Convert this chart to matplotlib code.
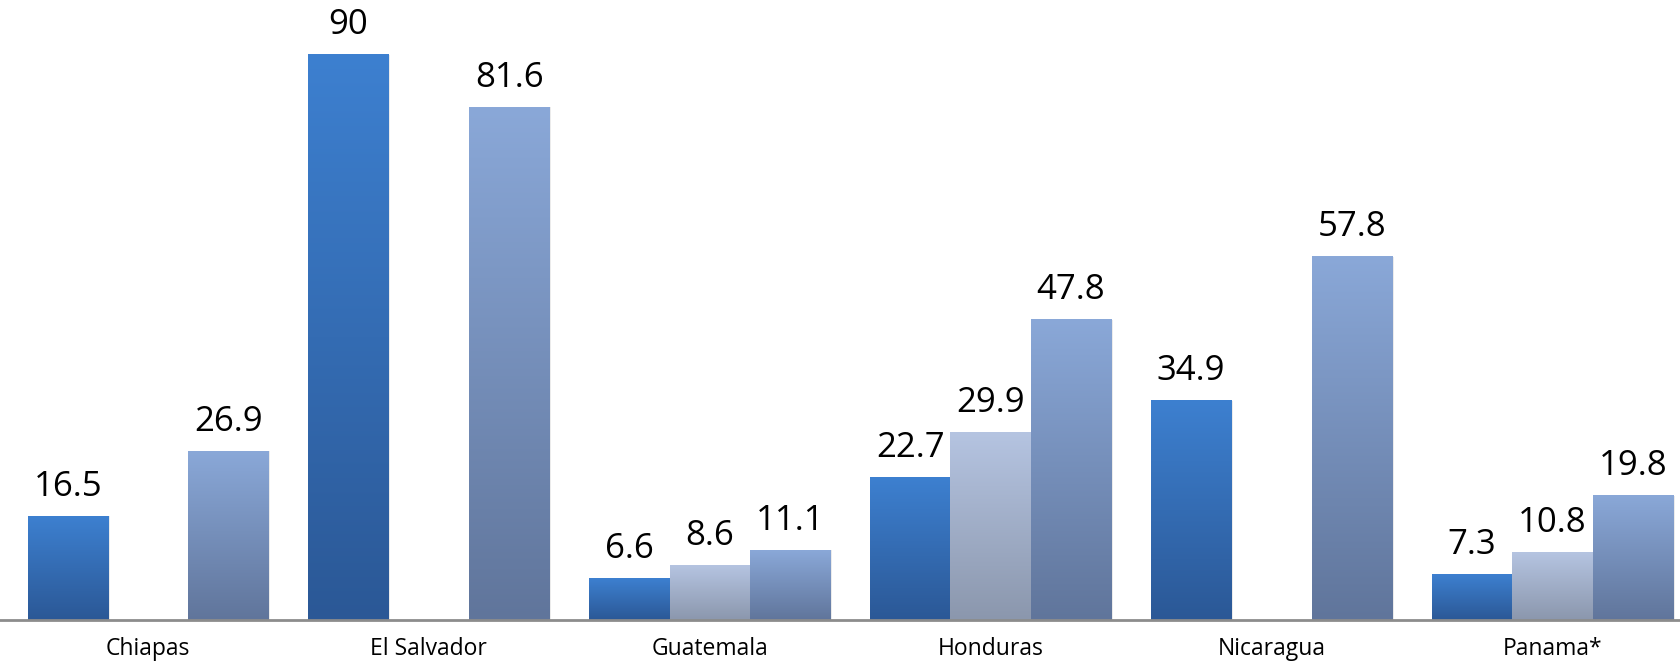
import numpy as np
import matplotlib
matplotlib.use("Agg")
import matplotlib.pyplot as plt
from matplotlib.colors import LinearSegmentedColormap

plt.rcParams['font.family'] = ['Open Sans', 'DejaVu Sans']

regions = ["Chiapas", "El Salvador", "Guatemala", "Honduras", "Nicaragua", "Panama*"]
series_a = [16.5, 90, 6.6, 22.7, 34.9, 7.3]
series_b = [np.nan, np.nan, 8.6, 29.9, np.nan, 10.8]
series_c = [26.9, 81.6, 11.1, 47.8, 57.8, 19.8]

# (top colour, bottom colour) for each series
shades = [("#3d80d0", "#2b5896"),
          ("#b5c4e1", "#8b97ad"),
          ("#8aa8d8", "#60759b")]

fig = plt.figure(figsize=(16.81, 6.70), dpi=100)
ax = fig.add_axes([0, 50 / 670, 1, 620 / 670])

x = np.arange(len(regions))
w = 0.286
grad = np.linspace(1, 0, 256).reshape(-1, 1)

for i, (vals, (top, bot)) in enumerate(zip([series_a, series_b, series_c], shades)):
    cmap = LinearSegmentedColormap.from_list("s%d" % i, [bot, top])
    bars = ax.bar(x + (i - 1) * w, vals, w, color="none", edgecolor="none")
    for rect, v in zip(bars, vals):
        if np.isnan(v):
            continue
        x0, h = rect.get_x(), rect.get_height()
        # soft shadow to the right
        ax.bar(x0 + w / 2 + 0.006, h, w, bottom=0, color="#000000", alpha=0.08,
               edgecolor="none", zorder=1)
        ax.imshow(grad, cmap=cmap, extent=(x0, x0 + w, 0, h), aspect="auto",
                  zorder=2, interpolation="bilinear")
        ax.annotate("%g" % v, (x0 + w / 2, h), xytext=(0, 9), textcoords="offset points",
                    ha="center", va="bottom", fontsize=25, color="#000000")

ax.set_xlim(-0.527, 5.458)
ax.set_ylim(0, 98.7)
ax.set_xticks(x)
ax.set_xticklabels(regions, fontsize=16.5)
ax.tick_params(axis="x", length=0, pad=12)
ax.set_yticks([])
for s in ["top", "right", "left"]:
    ax.spines[s].set_visible(False)
ax.spines["bottom"].set_color("#8c8c8c")
ax.spines["bottom"].set_linewidth(2)
ax.spines["bottom"].set_zorder(3)

fig.savefig("out.png", dpi=100)
